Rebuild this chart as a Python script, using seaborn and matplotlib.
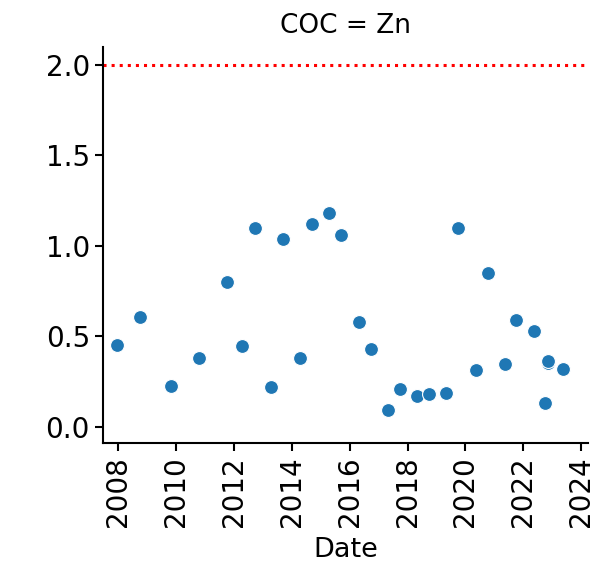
import pandas as pd
import numpy as np
import matplotlib
matplotlib.use("Agg")
import matplotlib.pyplot as plt
import matplotlib.dates as mdates
import seaborn as sns

dates = ["2007-12-20", "2008-10-01", "2009-11-03", "2010-10-19", "2011-10-08",
         "2012-04-16", "2012-09-20", "2013-04-13", "2013-09-13", "2014-04-09",
         "2014-09-17", "2015-04-13", "2015-09-16", "2016-05-01", "2016-09-27",
         "2017-05-01", "2017-10-01", "2018-04-27", "2018-09-27", "2019-05-01",
         "2019-09-27", "2020-05-15", "2020-10-08", "2021-05-15", "2021-10-05",
         "2022-05-15", "2022-10-01", "2022-11-08", "2022-11-10", "2023-05-15"]
zn = [0.455, 0.61, 0.226, 0.383, 0.803,
      0.447, 1.10, 0.219, 1.04, 0.38,
      1.12, 1.18, 1.06, 0.582, 0.43,
      0.092, 0.212, 0.171, 0.182, 0.19,
      1.10, 0.313, 0.85, 0.35, 0.59,
      0.53, 0.13, 0.351, 0.363, 0.322]
limit = 2.0

df = pd.DataFrame({"Date": pd.to_datetime(dates), "Value": zn, "COC": "Zn"})

sns.set_style("ticks")
plt.rcParams.update({"text.color": "black", "axes.labelcolor": "black",
                     "xtick.color": "black", "ytick.color": "black",
                     "axes.edgecolor": "black",
                     "font.size": 19, "axes.labelsize": 19.5, "axes.titlesize": 19,
                     "xtick.labelsize": 20, "ytick.labelsize": 20,
                     "axes.linewidth": 1.5, "xtick.major.width": 1.5,
                     "ytick.major.width": 1.5, "xtick.major.size": 6,
                     "ytick.major.size": 6})

fig, ax = plt.subplots(figsize=(6.1, 5.7), dpi=100)
fig.subplots_adjust(left=0.169, right=0.964, bottom=0.223, top=0.918)

sns.scatterplot(data=df, x="Date", y="Value", ax=ax, s=100, color="#1f77b4", edgecolor="white")
ax.axhline(limit, color="red", linestyle=":", linewidth=2.2)

ax.set_xlim(pd.Timestamp("2007-06-25"), pd.Timestamp("2024-03-28"))
ax.set_ylim(-0.088, 2.10)
ax.set_yticks([0.0, 0.5, 1.0, 1.5, 2.0])
ax.xaxis.set_major_locator(mdates.YearLocator(2))
ax.xaxis.set_major_formatter(mdates.DateFormatter("%Y"))
plt.setp(ax.get_xticklabels(), rotation=90)
ax.set_xlabel("Date", labelpad=7)
ax.set_ylabel("")
ax.set_title("COC = Zn", pad=10)
sns.despine(ax=ax)

fig.savefig("out.png", dpi=100)
